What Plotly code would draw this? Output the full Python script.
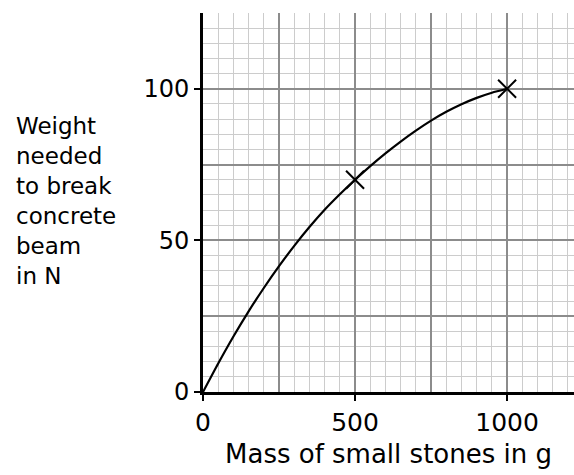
import plotly.graph_objects as go

# Curve (mass in g, weight in N)
curve_mass = [0, 50, 100, 150, 200, 250, 300, 350, 400, 450, 500,
              550, 600, 650, 700, 750, 800, 850, 900, 950, 1000]
curve_weight = [0, 9.4, 18.3, 26.6, 34.3, 41.5, 48.2, 54.4, 60.1, 65.2, 70,
                74.5, 78.7, 82.6, 86.2, 89.5, 92.4, 94.9, 97.0, 98.7, 100]

# Plotted points (crosses)
point_mass = [500, 1000]
point_weight = [70, 100]

x_tickvals = [0, 500, 1000]
x_ticktext = ["0", "500", "1000"]
y_tickvals = [0, 50, 100]
y_ticktext = ["0", "50", "100"]

x_title = "Mass of small stones in g"
y_title_lines = ["Weight", "needed", "to break", "concrete", "beam", "in N"]

FONT = "DejaVu Sans"
MAJOR = "#8c8c8c"
MINOR = "#cccccc"

fig = go.Figure()
fig.add_trace(go.Scatter(
    x=curve_mass, y=curve_weight, mode="lines",
    line=dict(color="black", width=2.2, shape="spline", smoothing=0.6),
    xaxis="x", yaxis="y", showlegend=False, hoverinfo="skip",
))
fig.add_trace(go.Scatter(
    x=point_mass, y=point_weight, mode="markers",
    marker=dict(symbol="x-thin-open", size=18, color="black",
                line=dict(color="black", width=2)),
    xaxis="x2", yaxis="y2", showlegend=False,
))

xr = [0, 1220]
yr = [0, 125]

fig.update_layout(
    width=574, height=475,
    margin=dict(l=203, r=0, t=13, b=83),
    paper_bgcolor="white", plot_bgcolor="white",
    font=dict(family=FONT, size=24, color="black"),
    xaxis=dict(
        range=xr, tick0=0, dtick=250, showticklabels=False, ticks="",
        showgrid=True, gridcolor=MAJOR, gridwidth=1.7,
        minor=dict(dtick=50, showgrid=True, gridcolor=MINOR, gridwidth=1.2),
        showline=True, linecolor="black", linewidth=3, zeroline=False,
        fixedrange=True, automargin=False,
    ),
    yaxis=dict(
        range=yr, tick0=0, dtick=25, showticklabels=False, ticks="",
        showgrid=True, gridcolor=MAJOR, gridwidth=1.7,
        minor=dict(dtick=5, showgrid=True, gridcolor=MINOR, gridwidth=1.2),
        showline=True, linecolor="black", linewidth=3, zeroline=False,
        fixedrange=True, automargin=False,
    ),
    xaxis2=dict(
        overlaying="x", anchor="y2", side="bottom", range=xr,
        tickvals=x_tickvals, ticktext=x_ticktext,
        ticks="outside", ticklen=8, tickwidth=1.5, tickcolor="black",
        tickfont=dict(family=FONT, size=25),
        showgrid=False, showline=False, zeroline=False,
        title=dict(text=x_title, font=dict(family=FONT, size=26), standoff=8),
        fixedrange=True, automargin=False,
    ),
    yaxis2=dict(
        overlaying="y", anchor="x2", side="left", range=yr,
        tickvals=y_tickvals, ticktext=y_ticktext,
        ticks="outside", ticklen=8, tickwidth=1.5, tickcolor="black",
        tickfont=dict(family=FONT, size=24),
        showgrid=False, showline=False, zeroline=False,
        fixedrange=True, automargin=False,
    ),
    annotations=[dict(
        text="<br>".join(y_title_lines), xref="paper", yref="paper",
        x=-0.51, y=0.504, xanchor="left", yanchor="middle", align="left",
        showarrow=False, font=dict(family=FONT, size=23),
    )],
)

fig.write_html("out.html", config={"displayModeBar": False},
               post_script="document.body.style.margin='0';")
